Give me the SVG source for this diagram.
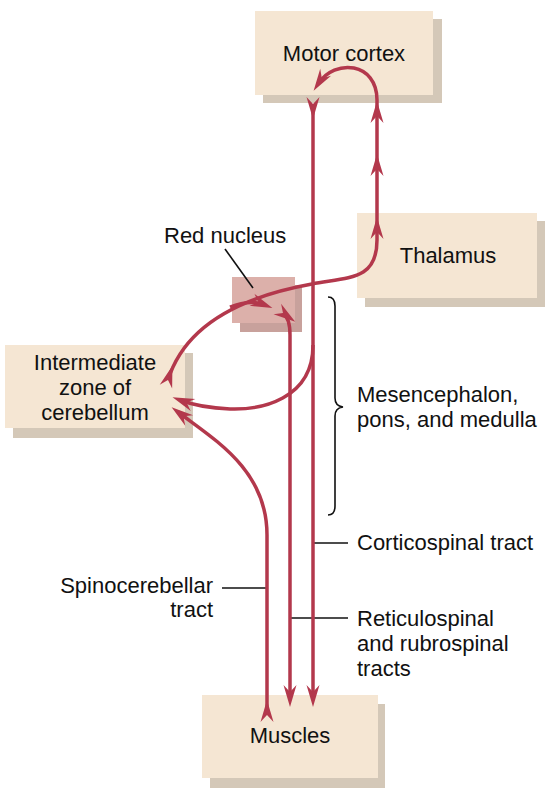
<svg xmlns="http://www.w3.org/2000/svg" xmlns:xlink="http://www.w3.org/1999/xlink" width="546" height="789" viewBox="0 0 546 789">
<style>
.box{fill:#f5e6d3}
.shd{fill:#d4c8b8}
.rn{fill:#dcb0aa}
.rns{fill:#c8a19c}
.t{font-family:"Liberation Sans",Arial,Helvetica,sans-serif;font-size:22px;fill:#111}
.m{text-anchor:middle}
.e{text-anchor:end}
.tr{fill:none;stroke:#b3384c;stroke-width:3.5}
.ld{fill:none;stroke:#111;stroke-width:1.6}
.ah{fill:#b3384c}
</style>
<defs>
<path id="ahp" d="M 8 0 L -14 -6.5 L -7 0 L -14 6.5 Z"/>
<marker id="arr" markerUnits="userSpaceOnUse" viewBox="-16 -8 26 16" markerWidth="26" markerHeight="16" refX="0" refY="0" orient="auto">
<path d="M 8 0 L -14 -6.5 L -7 0 L -14 6.5 Z" fill="#b3384c"/>
</marker>
<marker id="tail" markerUnits="userSpaceOnUse" viewBox="-9 -8 26 16" markerWidth="26" markerHeight="16" refX="0" refY="0" orient="auto">
<path d="M 15 0 L -7 -6.5 L 0 0 L -7 6.5 Z" fill="#b3384c"/>
</marker>
</defs>

<g id="motor-cortex">
<rect class="shd" x="263" y="19" width="179" height="84"/>
<rect class="box" x="255" y="11" width="178" height="84"/>
<text class="t m" x="344" y="61">Motor cortex</text>
</g>

<g id="thalamus">
<rect class="shd" x="365" y="221" width="180" height="86"/>
<rect class="box" x="357" y="213" width="180" height="85"/>
<text class="t m" x="448" y="263">Thalamus</text>
</g>

<g id="red-nucleus">
<rect class="rns" x="240" y="285" width="62" height="47"/>
<rect class="rn" x="232" y="277" width="63" height="46"/>
<text class="t" x="164" y="243">Red nucleus</text>
<line class="ld" x1="225" y1="249" x2="253" y2="288"/>
</g>

<g id="cerebellum">
<rect class="shd" x="13" y="353" width="180" height="85"/>
<rect class="box" x="5" y="345" width="180" height="83"/>
<text class="t m" x="95" y="370">Intermediate</text>
<text class="t m" x="95" y="395">zone of</text>
<text class="t m" x="95" y="420">cerebellum</text>
</g>

<g id="muscles">
<rect class="shd" x="210" y="704" width="175" height="84"/>
<rect class="box" x="202" y="695" width="176" height="83"/>
<text class="t m" x="290" y="743">Muscles</text>
</g>

<g id="brainstem-label">
<path class="ld" d="M 328 297 Q 335 297 335 306 L 335 398 Q 335 406 343 407 Q 335 408 335 416 L 335 506 Q 335 515 328 515"/>
<text class="t" x="357" y="402">Mesencephalon,</text>
<text class="t" x="357" y="427">pons, and medulla</text>
</g>

<g id="tract-labels">
<line class="ld" x1="314" y1="543" x2="348" y2="543"/>
<text class="t" x="357" y="550">Corticospinal tract</text>
<line class="ld" x1="291" y1="618" x2="348" y2="618"/>
<text class="t" x="357" y="626">Reticulospinal</text>
<text class="t" x="357" y="651">and rubrospinal</text>
<text class="t" x="357" y="676">tracts</text>
<line class="ld" x1="222" y1="588" x2="266" y2="588"/>
<text class="t e" x="213" y="593">Spinocerebellar</text>
<text class="t e" x="213" y="617">tract</text>
</g>

<g id="connectors">
<!-- corticospinal tract -->
<path class="tr" d="M 313 104 L 313 699" marker-start="url(#tail)" marker-end="url(#arr)"/>
<!-- corticospinal collateral to cerebellum -->
<path class="tr" d="M 313 345 C 313 400 260 410 230 409 C 207 408 193 405 180 400" marker-end="url(#arr)"/>
<!-- cerebellum to thalamus to motor cortex -->
<path class="tr" d="M 168 380 C 185 325 240 297 312 284 C 350 277 377 280 377 240 L 377 100 C 377 62 335 58 318 84" marker-start="url(#tail)" marker-end="url(#arr)"/>
<use href="#ahp" class="ah" transform="translate(377,225) rotate(-90)"/>
<use href="#ahp" class="ah" transform="translate(377,162) rotate(-90)"/>
<use href="#ahp" class="ah" transform="translate(377,109) rotate(-90)"/>
<!-- branch to red nucleus -->
<path class="tr" d="M 230 307 Q 250 299 265 305" marker-end="url(#arr)"/>
<!-- rubrospinal tract -->
<path class="tr" d="M 283 313 Q 290 318 290 335 L 290 699" marker-start="url(#tail)" marker-end="url(#arr)"/>
<!-- spinocerebellar tract -->
<path class="tr" d="M 267 715 L 267 535 C 267 470 215 440 178 412" marker-start="url(#tail)" marker-end="url(#arr)"/>
</g>
</svg>
